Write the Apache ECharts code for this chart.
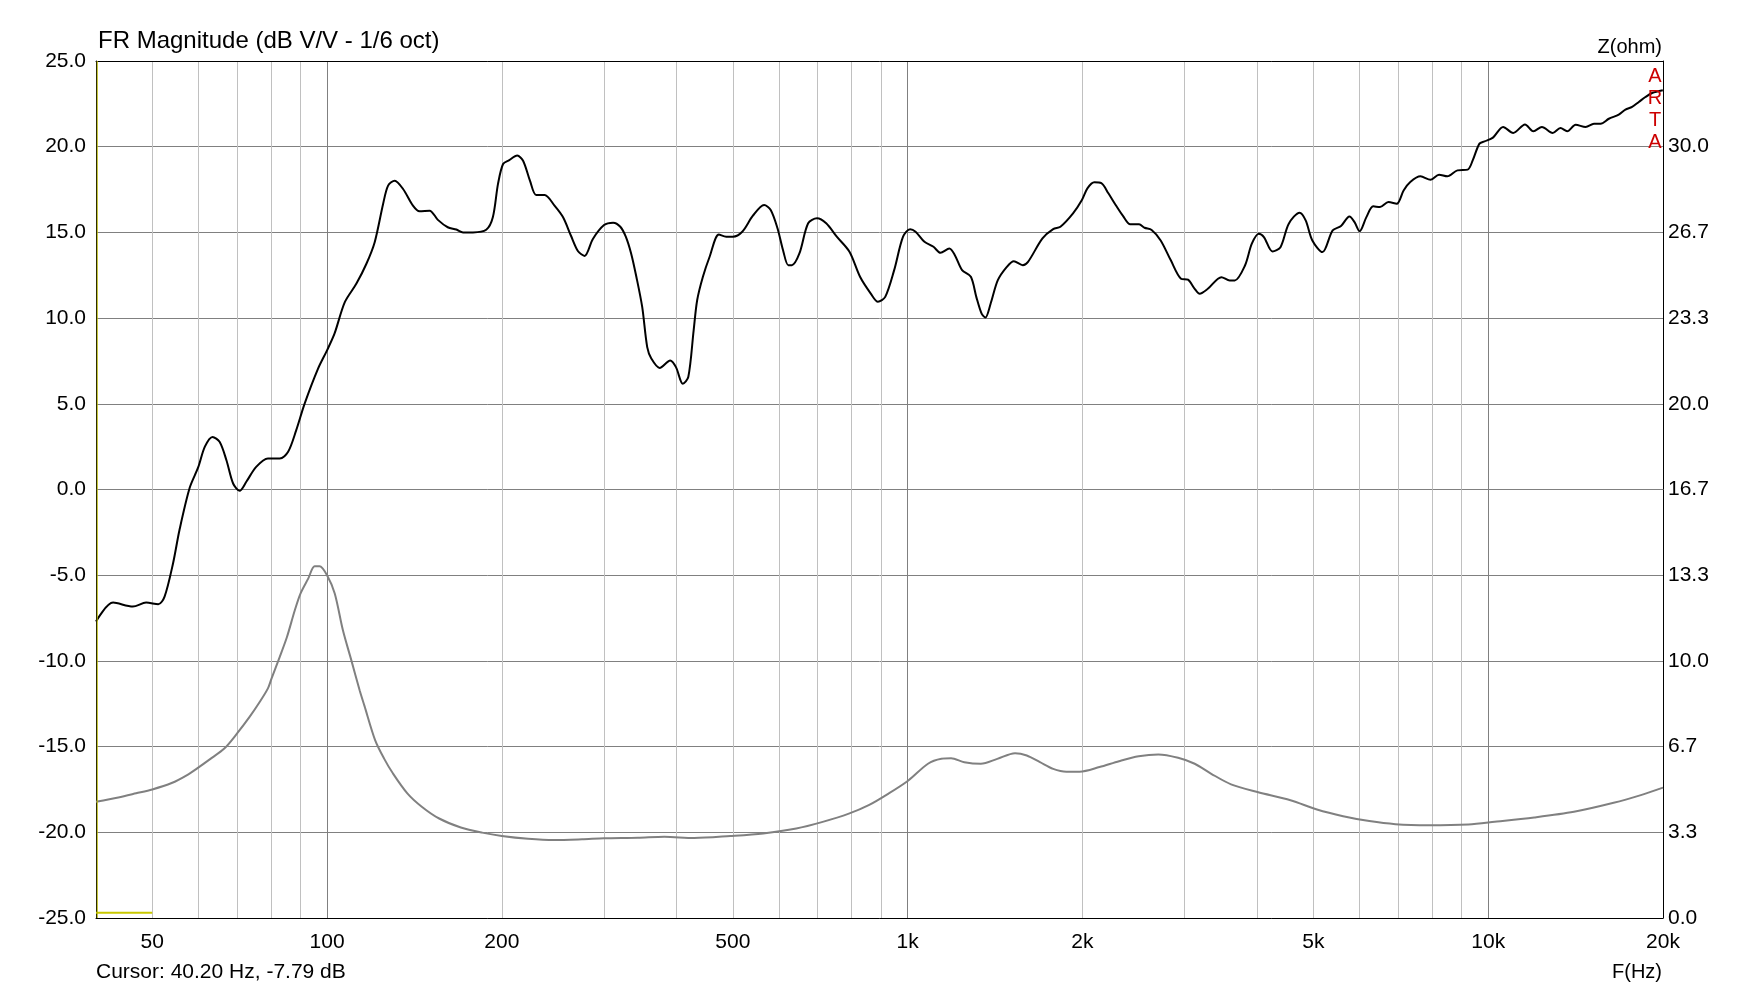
<!DOCTYPE html>
<html>
<head>
<meta charset="utf-8">
<script src="https://cdn.jsdelivr.net/npm/echarts@6/dist/echarts.min.js"></script>
<style>html,body{margin:0;padding:0;background:#fff}#c{width:1759px;height:990px}</style>
</head>
<body>
<div id="c"></div>
<script>
// ---- Data ----
const frFreq = [40,42.8,46.3,48.8,51.2,52.5,54.3,55.7,58,60,61.6,63.5,65.3,67.1,68.9,70.7,72.6,75.5,79.1,82.9,85.7,88.5,91.5,96.5,100,103,107.3,112.3,116.9,120.8,124.9,127.4,130.8,135.2,140.6,144.3,150.2,155.2,161.4,167,171.5,178.4,188,193,197,201,206,212.6,217.6,223.6,229.2,237,246.5,255,263,270.6,277.7,287,300,311,320,327,334,341,349,356,362,374,390,399,410,419,428,434,444,456,473,487,500,519,541,566,581,597,610,623,632,651,674,698,724,755,794,828,864,889,915,948,982,1010,1032,1069,1108,1139,1180,1206,1241,1285,1313,1341,1361,1390,1430,1482,1524,1579,1612,1707,1781,1833,1927,1996,2040,2097,2156,2217,2282,2349,2418,2504,2559,2632,2728,2840,2957,3040,3122,3184,3289,3471,3587,3660,3811,3916,4026,4108,4250,4387,4534,4733,4848,4978,5182,5396,5577,5767,5885,6005,6168,6337,6510,6732,6957,7149,7341,7643,7955,8227,8504,8852,9218,9403,9658,9854,10189,10607,11042,11570,11963,12372,12912,13316,13678,14144,14717,15209,15615,16134,16782,17231,17693,18169,18656,19157,19985];
const frDb = [-7.7,-6.6,-6.83,-6.6,-6.7,-6.25,-4.3,-2.36,0.1,1.3,2.5,3.07,2.78,1.71,0.35,-0.08,0.45,1.32,1.81,1.81,2.2,3.46,5.01,7.05,8.12,9.09,10.93,12.0,13.17,14.43,16.66,17.73,18.02,17.53,16.56,16.23,16.27,15.73,15.3,15.17,15.0,15.0,15.15,15.88,17.83,18.99,19.22,19.48,19.18,18.02,17.18,17.18,16.56,15.88,14.82,13.9,13.63,14.62,15.43,15.57,15.33,14.75,13.77,12.41,10.65,8.31,7.63,7.09,7.53,7.14,6.17,6.56,9.29,11.04,12.41,13.58,14.88,14.75,14.75,15.04,15.96,16.6,16.31,15.23,13.97,13.09,13.09,13.77,15.53,15.82,15.53,14.75,13.87,12.41,11.43,10.95,11.24,12.8,14.75,15.19,15.04,14.45,14.16,13.81,14.06,13.67,12.8,12.41,11.24,10.26,10.03,10.85,12.21,12.99,13.32,13.09,13.28,14.65,15.19,15.33,16.11,16.89,17.57,17.92,17.87,17.28,16.6,15.96,15.47,15.47,15.27,15.14,14.53,13.37,12.3,12.24,11.71,11.42,11.71,12.39,12.2,12.2,13.07,14.34,14.92,14.73,13.89,14.14,15.51,16.15,15.7,14.53,13.85,15.12,15.37,15.93,15.6,15.06,15.89,16.52,16.48,16.77,16.67,17.45,17.94,18.27,18.07,18.37,18.27,18.62,18.66,19.2,20.18,20.31,20.53,21.15,20.8,21.3,20.9,21.15,20.8,21.09,20.9,21.28,21.15,21.34,21.34,21.63,21.87,22.16,22.32,22.61,22.9,23.13,23.29];

const zFreq = [40,43.7,46.9,50,54,57.3,60,62.8,66.6,70,73.6,76.6,79.1,80.2,82.9,85.3,88,90,92.8,95.2,97.1,100,103.1,106.5,110.1,113.8,116,121,125.4,129.9,137.5,145.6,156,170,185,200,222,246,275,300,343,381,429,495,564,643,714,792,857,927,1003,1084,1143,1188,1252,1337,1427,1531,1604,1690,1781,1877,1978,2140,2313,2500,2703,2923,3122,3334,3606,4004,4565,5070,5625,6240,6922,7885,9245,10257,12003,14047,16445,18257,20000];
const zOhm = [4.52,4.69,4.85,5.0,5.25,5.55,5.85,6.17,6.6,7.18,7.83,8.41,8.93,9.3,10.16,10.93,11.97,12.62,13.2,13.68,13.68,13.33,12.62,11.19,10.03,8.86,8.25,6.92,6.2,5.62,4.85,4.33,3.87,3.52,3.32,3.19,3.08,3.03,3.06,3.1,3.12,3.16,3.11,3.19,3.29,3.48,3.74,4.06,4.39,4.84,5.35,6.0,6.19,6.21,6.06,6.0,6.19,6.41,6.32,6.06,5.8,5.69,5.69,5.87,6.1,6.29,6.36,6.23,6.0,5.61,5.2,4.9,4.58,4.22,3.96,3.77,3.65,3.61,3.64,3.74,3.91,4.13,4.48,4.77,5.07];

const xLabelFreqs = [50,100,200,500,1000,2000,5000,10000,20000];
const xLabelTexts = ['50','100','200','500','1k','2k','5k','10k','20k'];
const minorGridFreqs = [50,60,70,80,90,200,300,400,500,600,700,800,900,2000,3000,4000,5000,6000,7000,8000,9000];
const majorGridFreqs = [100,1000,10000];
const freqMin = 40, freqMax = 20000;
const dbMin = -25, dbMax = 25, dbStep = 5;
const ohmMin = 0, ohmMax = 100/3, ohmStep = 10/3;

const cursorHFreq = [40, 50];
const cursorHDb = [-24.7, -24.7];
const cursorVFreq = [40.2, 40.2];
const cursorVDb = [-25, 25];

const titleText = 'FR Magnitude (dB V/V - 1/6 oct)';
const rightAxisName = 'Z(ohm)';
const xAxisName = 'F(Hz)';
const cursorText = 'Cursor: 40.20 Hz, -7.79 dB';
const brandLetters = ['A','R','T','A'];

// ---- Chart ----
const L = Math.log10;
const FONT = '"Liberation Sans", Arial, sans-serif';
const pairs = (xs, ys) => xs.map((f, i) => [L(f), ys[i]]);

const chart = echarts.init(document.getElementById('c'), null, {renderer: 'canvas'});

const graphics = [
  {type:'text', x:98, y:41, style:{text:titleText, fill:'#000', font:'24px ' + FONT, textVerticalAlign:'middle', textAlign:'left'}},
  {type:'text', x:1662, y:47, style:{text:rightAxisName, fill:'#000', font:'20px ' + FONT, textVerticalAlign:'middle', textAlign:'right'}},
  {type:'text', x:96, y:972, style:{text:cursorText, fill:'#000', font:'21px ' + FONT, textVerticalAlign:'middle', textAlign:'left'}},
  {type:'text', x:1662, y:972, style:{text:xAxisName, fill:'#000', font:'20px ' + FONT, textVerticalAlign:'middle', textAlign:'right'}}
];
brandLetters.forEach((ch, i) => {
  graphics.push({type:'text', x:1655, y:76 + i*22.3, z:100, style:{text:ch, fill:'#cc0000', font:'20px ' + FONT, textVerticalAlign:'middle', textAlign:'center'}});
});

const option = {
  animation: false,
  backgroundColor: '#fff',
  grid: {left:96, right:96, top:61, bottom:72, containLabel:false},
  xAxis: [
    {
      type:'value', min:L(freqMin), max:L(freqMax), position:'bottom',
      axisLine:{show:true, onZero:false, lineStyle:{color:'#000', width:1}},
      axisTick:{show:false, customValues: minorGridFreqs.map(L)},
      splitLine:{show:true, lineStyle:{color:'#c0c0c0', width:1}},
      axisLabel:{
        customValues: xLabelFreqs.map(L), color:'#000', fontSize:21, fontFamily:FONT, margin:14,
        formatter: v => { let best = 0, d = 1e9; xLabelFreqs.forEach((f, i) => { const dd = Math.abs(L(f) - v); if (dd < d) { d = dd; best = i; } }); return xLabelTexts[best]; }
      }
    },
    {
      type:'value', min:L(freqMin), max:L(freqMax), position:'top',
      axisLine:{show:true, onZero:false, lineStyle:{color:'#000', width:1}},
      axisTick:{show:false, customValues: majorGridFreqs.map(L)},
      axisLabel:{show:false},
      splitLine:{show:true, lineStyle:{color:'#808080', width:1}}
    }
  ],
  yAxis: [
    {
      type:'value', min:dbMin, max:dbMax, interval:dbStep, position:'left',
      axisLine:{show:true, onZero:false, lineStyle:{color:'#000', width:1}},
      axisTick:{show:false},
      splitLine:{show:true, lineStyle:{color:'#808080', width:1}},
      axisLabel:{color:'#000', fontSize:21, fontFamily:FONT, margin:10, formatter: v => v.toFixed(1)}
    },
    {
      type:'value', min:ohmMin, max:ohmMax, interval:ohmStep, position:'right',
      axisLine:{show:true, onZero:false, lineStyle:{color:'#000', width:1}},
      axisTick:{show:false},
      splitLine:{show:false},
      axisLabel:{color:'#000', fontSize:21, fontFamily:FONT, margin:5, formatter: v => v > 33 ? '' : v.toFixed(1)}
    }
  ],
  graphic: graphics,
  series: [
    {
      name:'Impedance', type:'line', xAxisIndex:0, yAxisIndex:1, data:pairs(zFreq, zOhm),
      showSymbol:false, smooth:0.3, lineStyle:{color:'#808080', width:2}, z:2, silent:true
    },
    {
      name:'FR', type:'line', xAxisIndex:0, yAxisIndex:0, data:pairs(frFreq, frDb),
      showSymbol:false, smooth:0.3, lineStyle:{color:'#000', width:2}, z:3, silent:true
    },
    {
      name:'CursorH', type:'line', xAxisIndex:0, yAxisIndex:0, data:pairs(cursorHFreq, cursorHDb),
      showSymbol:false, lineStyle:{color:'#c8c800', width:2}, z:4, silent:true
    },
    {
      name:'CursorV', type:'line', xAxisIndex:0, yAxisIndex:0, data:pairs(cursorVFreq, cursorVDb),
      showSymbol:false, lineStyle:{color:'#b4b400', width:1}, z:4, silent:true
    }
  ]
};
chart.setOption(option);
</script>
</body>
</html>
